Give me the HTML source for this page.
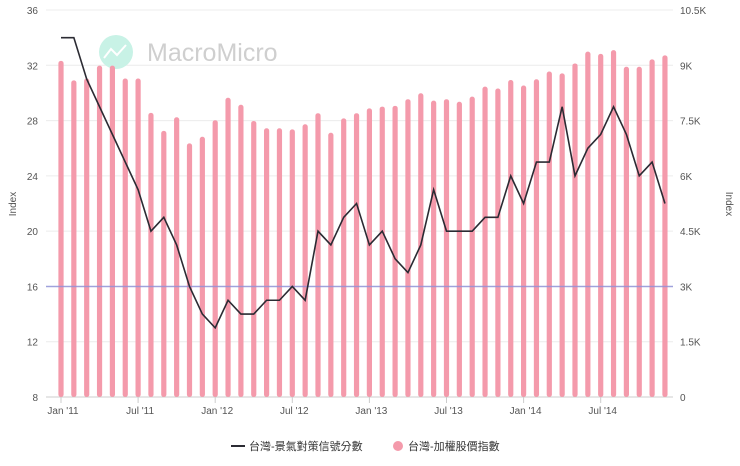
<!DOCTYPE html>
<html><head><meta charset="utf-8"><style>
body{margin:0;background:#fff;font-family:"Liberation Sans","Noto Sans CJK TC",sans-serif}
svg text{font-family:"Liberation Sans","Noto Sans CJK TC",sans-serif}
</style></head><body>
<svg width="740" height="461" viewBox="0 0 740 461" xmlns="http://www.w3.org/2000/svg">
<g id="grid"></g>
<g>
<circle cx="116" cy="52" r="17" fill="#c8f2e6"/>
<path d="M104 58 L111 49 L117 55 L126 45" stroke="#fff" stroke-width="2" fill="none"/>
<text x="147" y="61" font-size="25" fill="#cfcfcf">MacroMicro</text>
</g>
<g id="bars"></g>
<line x1="46" x2="673" y1="286.5" y2="286.5" stroke="#8e8fd8" stroke-width="1.5" opacity="0.8"/>
<path id="line" fill="none" stroke="#2b2b33" stroke-width="1.6"/>
<g id="axes"></g>
<text transform="translate(16,204) rotate(-90)" font-size="10" fill="#555" text-anchor="middle">Index</text>
<text transform="translate(726,204) rotate(90)" font-size="10" fill="#555" text-anchor="middle">Index</text>
<g>
<g><line x1="231" x2="245" y1="446" y2="446" stroke="#2b2b33" stroke-width="2"/><text x="249" y="450" font-size="11" fill="#333">台灣-景氣對策信號分數</text></g>
<g><circle cx="398" cy="446" r="5" fill="#f49aab"/><text x="408" y="450" font-size="11" fill="#333">台灣-加權股價指數</text></g>
</g>
</svg>
<script>
const months=["Jan '11","Jul '11","Jan '12","Jul '12","Jan '13","Jul '13","Jan '14","Jul '14"];
const signal=[34,34,31,29,27,25,23,20,21,19,16,14,13,15,14,14,15,15,16,15,20,19,21,22,19,20,18,17,19,23,20,20,20,21,21,24,22,25,25,29,24,26,27,29,27,24,25,22];
const taiex=[9.12,8.59,8.64,8.99,8.99,8.64,8.64,7.71,7.22,7.59,6.88,7.06,7.51,8.12,7.93,7.49,7.29,7.29,7.26,7.40,7.70,7.17,7.56,7.70,7.83,7.88,7.90,8.08,8.24,8.04,8.08,8.01,8.15,8.42,8.37,8.60,8.45,8.62,8.83,8.78,9.05,9.37,9.31,9.41,8.96,8.96,9.16,9.27];
const leftTicks=[8,12,16,20,24,28,32,36];
const rightTicks=["0","1.5K","3K","4.5K","6K","7.5K","9K","10.5K"];
const NS="http://www.w3.org/2000/svg";
const x=i=>61+i*12.85;
const yL=v=>397-(v-8)*(387/28);
const yR=v=>397-v*(387/10.5);
function mk(t,a,p){const e=document.createElementNS(NS,t);for(const k in a)e.setAttribute(k,a[k]);p.appendChild(e);return e;}
const grid=document.getElementById('grid'),axes=document.getElementById('axes'),bars=document.getElementById('bars');
leftTicks.forEach((v,i)=>{const y=yL(v);
 const g=mk('line',{x1:46,x2:673,y1:y,y2:y,stroke:i==0?'#ccc':'#ececec','stroke-width':1},grid);
 
 
 const t=mk('text',{x:38,y:y+4,'font-size':10,fill:'#555','text-anchor':'end'},axes);t.textContent=v;
 
 
 const r=mk('text',{x:680,y:y+4,'font-size':10,fill:'#555'},axes);r.textContent=rightTicks[i];
 
 
});
taiex.forEach((v,i)=>{const b=mk('rect',{x:x(i)-2.6,y:yR(v),width:5.2,height:397-yR(v),rx:2.5,fill:'#f49aab'},bars);
 
 });
document.getElementById('line').setAttribute('d',signal.map((v,i)=>(i?'L':'M')+x(i)+' '+yL(v)).join(' '));
months.forEach((m,k)=>{const xx=x(k*6);
 mk('line',{x1:xx,x2:xx,y1:397,y2:403,stroke:'#ccc'},axes);
 const t=mk('text',{x:xx+2,y:414,'font-size':10,fill:'#555','text-anchor':'middle'},axes);t.textContent=m;
 
 });
</script>
</body></html>
